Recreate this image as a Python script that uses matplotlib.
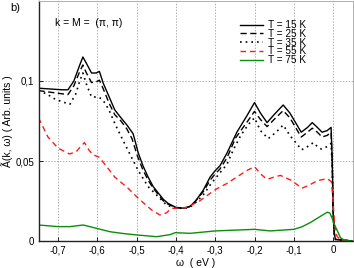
import matplotlib
matplotlib.use("Agg")
import matplotlib.pyplot as plt
from matplotlib.ticker import FuncFormatter

plt.rcParams['font.family'] = ['Liberation Sans', 'DejaVu Sans']

# ---- data ----
x15 = [-0.75, -0.72, -0.69, -0.675, -0.66, -0.645, -0.637, -0.628, -0.615, -0.603, -0.595, -0.585,
       -0.57, -0.556, -0.54, -0.525, -0.509, -0.496, -0.484, -0.471, -0.458, -0.445, -0.432, -0.42,
       -0.40, -0.38, -0.365, -0.35, -0.33, -0.313, -0.30, -0.288, -0.27, -0.245, -0.22, -0.2,
       -0.185, -0.168, -0.15, -0.127, -0.11, -0.081, -0.065, -0.053, -0.04, -0.028, -0.015,
       -0.005, -0.002, 0.0, 0.003, 0.006, 0.05]
y15 = [0.0955, 0.095, 0.0945, 0.0945, 0.100, 0.110, 0.115, 0.111, 0.105, 0.105, 0.106, 0.0985,
       0.090, 0.082, 0.077, 0.0725, 0.067, 0.055, 0.047, 0.040, 0.034, 0.030, 0.026, 0.0235,
       0.0210, 0.0205, 0.0215, 0.025, 0.032, 0.040, 0.044, 0.047, 0.055, 0.068, 0.078, 0.0865,
       0.080, 0.074, 0.079, 0.085, 0.080, 0.068, 0.071, 0.074, 0.071, 0.068, 0.069,
       0.071, 0.050, 0.020, 0.005, 0.001, 0.0]

x25 = [-0.75, -0.72, -0.69, -0.675, -0.66, -0.645, -0.637, -0.628, -0.615, -0.603, -0.595, -0.585,
       -0.57, -0.556, -0.54, -0.525, -0.512, -0.498, -0.485, -0.471, -0.458, -0.445, -0.432, -0.42,
       -0.40, -0.38, -0.365, -0.35, -0.33, -0.313, -0.30, -0.288, -0.27, -0.248, -0.22, -0.2,
       -0.185, -0.168, -0.15, -0.127, -0.11, -0.081, -0.065, -0.053, -0.04, -0.028, -0.015,
       -0.005, -0.002, 0.0, 0.003, 0.006, 0.05]
y25 = [0.094, 0.093, 0.092, 0.0915, 0.097, 0.106, 0.110, 0.105, 0.099, 0.0995, 0.1005, 0.095,
       0.086, 0.079, 0.075, 0.070, 0.064, 0.053, 0.045, 0.038, 0.033, 0.029, 0.025, 0.023,
       0.0208, 0.0205, 0.0215, 0.025, 0.031, 0.038, 0.042, 0.045, 0.052, 0.0645, 0.074, 0.081,
       0.076, 0.0715, 0.076, 0.0815, 0.077, 0.065, 0.068, 0.0705, 0.068, 0.065, 0.066,
       0.068, 0.048, 0.019, 0.005, 0.001, 0.0]

x35 = [-0.75, -0.73, -0.71, -0.69, -0.67, -0.655, -0.645, -0.637, -0.628, -0.615, -0.60, -0.59,
       -0.58, -0.569, -0.552, -0.535, -0.514, -0.496, -0.471, -0.445, -0.424, -0.40, -0.38,
       -0.365, -0.35, -0.33, -0.313, -0.30, -0.27, -0.254, -0.235, -0.215, -0.2, -0.185, -0.165,
       -0.145, -0.127, -0.11, -0.08, -0.065, -0.05, -0.04, -0.03, -0.015, -0.005, -0.002, 0.0,
       0.003, 0.006, 0.05]
y35 = [0.094, 0.092, 0.089, 0.087, 0.0855, 0.092, 0.100, 0.105, 0.098, 0.090, 0.090, 0.089,
       0.086, 0.081, 0.0715, 0.063, 0.0527, 0.044, 0.034, 0.0277, 0.0225, 0.0205, 0.0205,
       0.021, 0.024, 0.029, 0.035, 0.039, 0.048, 0.057, 0.066, 0.073, 0.077, 0.069, 0.064,
       0.068, 0.0725, 0.066, 0.057, 0.059, 0.0615, 0.059, 0.0575, 0.059, 0.061, 0.045, 0.018,
       0.005, 0.001, 0.0]

x55 = [-0.75, -0.726, -0.70, -0.671, -0.654, -0.643, -0.633, -0.622, -0.612, -0.595, -0.575,
       -0.556, -0.522, -0.496, -0.462, -0.441, -0.425, -0.411, -0.372, -0.34, -0.313, -0.297,
       -0.27, -0.245, -0.22, -0.2, -0.185, -0.168, -0.15, -0.134, -0.107, -0.079, -0.06, -0.04,
       -0.015, -0.004, 0.0, 0.004, 0.01, 0.02, 0.05]
y55 = [0.077, 0.065, 0.058, 0.0544, 0.0558, 0.059, 0.0615, 0.057, 0.054, 0.0523, 0.046,
       0.040, 0.033, 0.0267, 0.0194, 0.0163, 0.0175, 0.0204, 0.021, 0.025, 0.0298, 0.0325,
       0.036, 0.040, 0.044, 0.0465, 0.042, 0.0385, 0.040, 0.041, 0.038, 0.033, 0.035, 0.0377,
       0.039, 0.037, 0.025, 0.010, 0.003, 0.0005, 0.0]

x75 = [-0.75, -0.70, -0.67, -0.636, -0.602, -0.568, -0.535, -0.50, -0.449, -0.415, -0.402,
       -0.364, -0.30, -0.25, -0.2, -0.16, -0.1, -0.08, -0.058, -0.035, -0.015, -0.008, -0.002,
       0.002, 0.01, 0.019, 0.028, 0.04, 0.05]
y75 = [0.010, 0.009, 0.009, 0.010, 0.0079, 0.0058, 0.0047, 0.0038, 0.0027, 0.0040, 0.0052,
       0.0048, 0.0063, 0.0068, 0.0073, 0.0063, 0.0073, 0.0088, 0.0115, 0.015, 0.018, 0.0175, 0.014,
       0.011, 0.0069, 0.002, 0.0007, 0.0002, 0.0]

labels = ["T = 15 K", "T = 25 K", "T = 35 K", "T = 55 K", "T = 75 K"]
xticks = [-0.7, -0.6, -0.5, -0.4, -0.3, -0.2, -0.1, 0.0]
yticks = [0.0, 0.05, 0.1]

# ---- figure ----
fig = plt.figure(figsize=(3.54, 2.68), dpi=100)
ax = fig.add_axes([0.1088, 0.1007, 0.8875, 0.8956])

ax.plot(x15, y15, color='black', lw=1.0, ls='-', label=labels[0])
ax.plot(x25, y25, color='black', lw=1.0, ls=(0, (4.5, 2.5)), label=labels[1])
ax.plot(x35, y35, color='black', lw=1.2, ls=(0, (1, 2.4)), label=labels[2])
ax.plot(x55, y55, color='#ff1a1a', lw=1.0, ls=(0, (4.0, 2.8)), label=labels[3])
ax.plot(x75, y75, color='#0a8f0a', lw=1.0, ls='-', label=labels[4])

ax.set_xlim(-0.75, 0.05)
ax.set_ylim(0, 0.15)
ax.set_xticks(xticks)
ax.set_yticks(yticks)


def fmt(v, pos):
    if abs(v) < 1e-9:
        return "0"
    s = ("%.2f" % v).rstrip('0').rstrip('.')
    return s.replace('.', ',')


ax.xaxis.set_major_formatter(FuncFormatter(fmt))
ax.yaxis.set_major_formatter(FuncFormatter(fmt))
ax.tick_params(axis='both', direction='in', length=3, width=0.6, labelsize=7, pad=3)
ax.tick_params(top=False, right=False)

ax.grid(True, color='#b0b0b0', ls=(0, (1.5, 1.5)), lw=0.7)
for s in ['left', 'bottom']:
    ax.spines[s].set_color('#222222')
    ax.spines[s].set_linewidth(1.0)
for s in ['top', 'right']:
    ax.spines[s].set_color('#b0b0b0')
    ax.spines[s].set_linewidth(0.7)

ax.set_xlabel("ω  ( eV )", fontsize=7.5, labelpad=2)
ax.set_ylabel("Ã(k, ω) ( Arb. units )", fontsize=7.5, labelpad=2)

ax.text(0.0525, 0.91, "k = M =  (π, π)", transform=ax.transAxes, fontsize=7.5,
        va='center', ha='left')
fig.text(10 / 354, 1 - 8 / 268, "b)", fontsize=8, va='center', ha='left')

leg = ax.legend(loc='upper left', bbox_to_anchor=(240 / 354, 1 - 20 / 268),
                bbox_transform=fig.transFigure, frameon=False, fontsize=7.2,
                handlelength=2.3, handletextpad=0.5, labelspacing=-0.12,
                borderpad=0.0, borderaxespad=0.0)

fig.savefig("out.png", dpi=100)
